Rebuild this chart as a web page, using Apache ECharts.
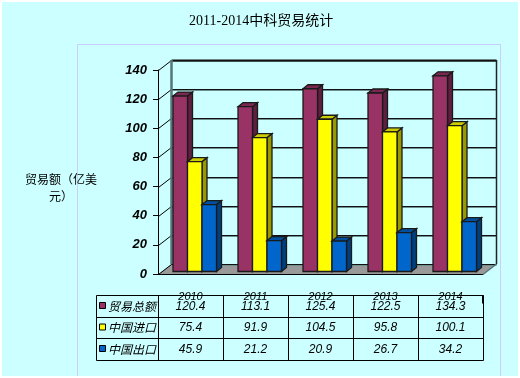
<!DOCTYPE html>
<html>
<head>
<meta charset="utf-8">
<title>2011-2014中科贸易统计</title>
<style>
html, body { margin: 0; padding: 0; background: #fff; }
#content { width: 520px; height: 378px; }
</style>
<script src="https://cdn.jsdelivr.net/npm/echarts@6/dist/echarts.min.js"></script>
</head>
<body>
<div id="content"></div>
<script>
var years = ["2010", "2011", "2012", "2013", "2014"];
var seriesNames = ["贸易总额", "中国进口", "中国出口"];
var totalTrade = [120.4, 113.1, 125.4, 122.5, 134.3];
var chinaImport = [75.4, 91.9, 104.5, 95.8, 100.1];
var chinaExport = [45.9, 21.2, 20.9, 26.7, 34.2];
var yTicks = [0, 20, 40, 60, 80, 100, 120, 140];

var allValues = [totalTrade, chinaImport, chinaExport];

// 相关的样式颜色 (正面, 侧面, 顶面)
var barColors = [
    { front: "#993366", side: "#5e1f40", top: "#7a2851" },
    { front: "#ffff00", side: "#999900", top: "#cccc00" },
    { front: "#0066cc", side: "#003f7f", top: "#00509f" },
];

var DEPTH_X = 13, DEPTH_Y = -10; // 背板偏移
var BAR_W = 14.5, BAR_DX = 5, BAR_DY = -4; // 柱子尺寸
var tableRows = [295.5, 317.5, 338.5, 360.5];
var TABLE_LEFT = 96.5;
var cellFont = "italic 12px 'Liberation Sans', 'Noto Sans CJK SC'";

var myChart = echarts.init(document.getElementById("content"));

function line(x1, y1, x2, y2, color, width) {
    return {
        type: "line",
        shape: { x1: x1, y1: y1, x2: x2, y2: y2 },
        style: { stroke: color, lineWidth: width || 1 },
    };
}

function poly(points, fill) {
    return {
        type: "polygon",
        shape: { points: points },
        style: { fill: fill, stroke: "#1a1a1a", lineWidth: 1.3 },
    };
}

// 画底面和背板
function renderFrame(params, api) {
    var children = [];
    var x0 = Math.round(api.coord([0, 0])[0] - api.size([1, 0])[0] / 2) + 0.5;
    var x1 = Math.round(api.coord([years.length - 1, 0])[0] + api.size([1, 0])[0] / 2) + 0.5;
    var y0 = api.coord([0, 0])[1];
    var yTop = api.coord([0, yTicks[yTicks.length - 1]])[1];

    children.push({
        type: "polygon",
        shape: { points: [[x0, y0], [x1, y0], [x1 + DEPTH_X, y0 + DEPTH_Y], [x0 + DEPTH_X, y0 + DEPTH_Y]] },
        style: { fill: "#999999" },
    });
    yTicks.forEach(function(t) {
        var y = Math.round(api.coord([0, t])[1]) + 0.5;
        children.push(line(x0 + DEPTH_X, y + DEPTH_Y + 1, x1 + DEPTH_X, y + DEPTH_Y + 1, "#6f9090"));
        children.push(line(x0 + DEPTH_X, y + DEPTH_Y, x1 + DEPTH_X, y + DEPTH_Y, "#111", t == 140 ? 2 : 1));
        children.push(line(x0, y, x0 + DEPTH_X, y + DEPTH_Y, "#000"));
    });
    // 背板左右边
    children.push(line(x0 + DEPTH_X, yTop + DEPTH_Y, x0 + DEPTH_X, y0 + DEPTH_Y, "#557777", 2.5));
    children.push(line(x1 + DEPTH_X, yTop + DEPTH_Y, x1 + DEPTH_X, y0 + DEPTH_Y, "#222", 1.5));
    children.push(line(x1, y0, x1 + DEPTH_X, y0 + DEPTH_Y, "#557777", 1.5));
    return { type: "group", children: children };
}

// 画三维柱子
function makeBarRender(index) {
    return function(params, api) {
        var c = barColors[index];
        var base = api.coord([api.value(0), 0]);
        var top = api.coord([api.value(0), api.value(1)]);
        var x = base[0] - 17.5 + index * BAR_W;
        var yb = base[1] - 2.5;
        var yt = top[1] - 2.5;
        return {
            type: "group",
            children: [
                poly([[x + BAR_W, yb], [x + BAR_W + BAR_DX, yb + BAR_DY], [x + BAR_W + BAR_DX, yt + BAR_DY], [x + BAR_W, yt]], c.side),
                poly([[x, yt], [x + BAR_DX, yt + BAR_DY], [x + BAR_W + BAR_DX, yt + BAR_DY], [x + BAR_W, yt]], c.top),
                poly([[x, yb], [x + BAR_W, yb], [x + BAR_W, yt], [x, yt]], c.front),
            ],
        };
    };
}

// 画数据表（每一行）
function renderTableRow(params, api) {
    var row = params.dataIndex;
    var band = api.size([1, 0])[0];
    var yA = tableRows[row], yB = tableRows[row + 1];
    var yMid = (yA + yB) / 2;
    var lastX = Math.round(api.coord([years.length - 1, 0])[0] + band / 2) + 0.5;
    var children = [];

    children.push(line(TABLE_LEFT, yA, lastX, yA, "#000"));
    children.push(line(TABLE_LEFT, yB, lastX, yB, "#000"));
    children.push(line(TABLE_LEFT, yA, TABLE_LEFT, yB, "#000"));
    for (var k = 0; k <= years.length; k++) {
        var lx = Math.round(api.coord([k, 0])[0] - band / 2) + 0.5;
        children.push(line(lx, yA, lx, yB, "#000"));
    }
    if (row == 0) {
        children.push(line(lastX - 0.5, yA, lastX - 0.5, yA + 8, "#000", 2));
    }
    children.push({
        type: "rect",
        shape: { x: 99.5, y: yMid - 4, width: 6, height: 6 },
        style: { fill: barColors[row].front, stroke: "#000", lineWidth: 1 },
    });
    children.push({
        type: "text",
        style: {
            text: seriesNames[row], x: 108, y: yMid - 0.5,
            font: "italic 12px 'Noto Sans CJK SC'", fill: "#000",
            align: "left", verticalAlign: "middle",
        },
    });
    years.forEach(function(y, i) {
        children.push({
            type: "text",
            style: {
                text: allValues[row][i].toFixed(1), x: api.coord([i, 0])[0], y: yMid,
                font: cellFont, fill: "#000",
                align: "center", verticalAlign: "middle",
            },
        });
    });
    return { type: "group", children: children };
}

function toPoints(values) {
    return values.map(function(v, i) {
        return [i, v];
    });
}

var series = [{
    type: "custom",
    z: 1,
    silent: true,
    renderItem: renderFrame,
    data: [[0, 0]],
}];
allValues.forEach(function(values, i) {
    series.push({
        type: "custom",
        name: seriesNames[i],
        z: 2,
        renderItem: makeBarRender(i),
        encode: { x: 0, y: 1 },
        data: toPoints(values),
    });
});
series.push({
    type: "custom",
    z: 6,
    silent: true,
    renderItem: renderTableRow,
    data: seriesNames.map(function(n, i) {
        return [i, 0];
    }),
});

myChart.setOption({
    animation: false,
    backgroundColor: "#ffffff",
    title: {
        text: "2011-2014中科贸易统计",
        left: 184,
        top: 9,
        textStyle: {
            fontFamily: "'Liberation Serif', 'Noto Sans CJK SC'",
            fontSize: 14,
            fontWeight: "normal",
            color: "#000",
        },
    },
    graphic: [
        {
            type: "rect", z: -10, silent: true,
            shape: { x: 2, y: 2, width: 516, height: 374 },
            style: { fill: "#ccffff" },
        },
        {
            type: "polyline", z: -9, silent: true,
            shape: { points: [[77.5, 376], [77.5, 44.5], [500.5, 44.5], [500.5, 376]] },
            style: { fill: null, stroke: "#ccccff", lineWidth: 1 },
        },
        {
            type: "text", z: 5, silent: true,
            style: {
                text: "贸易额（亿美\n元）", x: 61, y: 188,
                font: "12px 'Noto Sans CJK SC'", lineHeight: 17, fill: "#000",
                align: "center", verticalAlign: "middle",
            },
        },
    ],
    grid: { left: 158, top: 70, width: 325, height: 204 },
    xAxis: {
        type: "category",
        data: years,
        z: 5,
        axisLine: { lineStyle: { color: "#000" } },
        axisTick: { length: 21, lineStyle: { color: "#000" } },
        axisLabel: {
            margin: 17,
            fontStyle: "italic",
            fontSize: 11,
            fontFamily: "Liberation Sans",
            color: "#000",
        },
    },
    yAxis: {
        type: "value",
        min: 0,
        max: 140,
        interval: 20,
        z: 5,
        axisLine: { show: true, lineStyle: { color: "#000" } },
        axisTick: { show: true, length: 5, lineStyle: { color: "#000" } },
        splitLine: { show: false },
        axisLabel: {
            margin: 11,
            fontStyle: "italic",
            fontWeight: "bold",
            fontSize: 13,
            fontFamily: "Liberation Sans",
            color: "#000",
        },
    },
    series: series,
});
</script>
</body>
</html>
